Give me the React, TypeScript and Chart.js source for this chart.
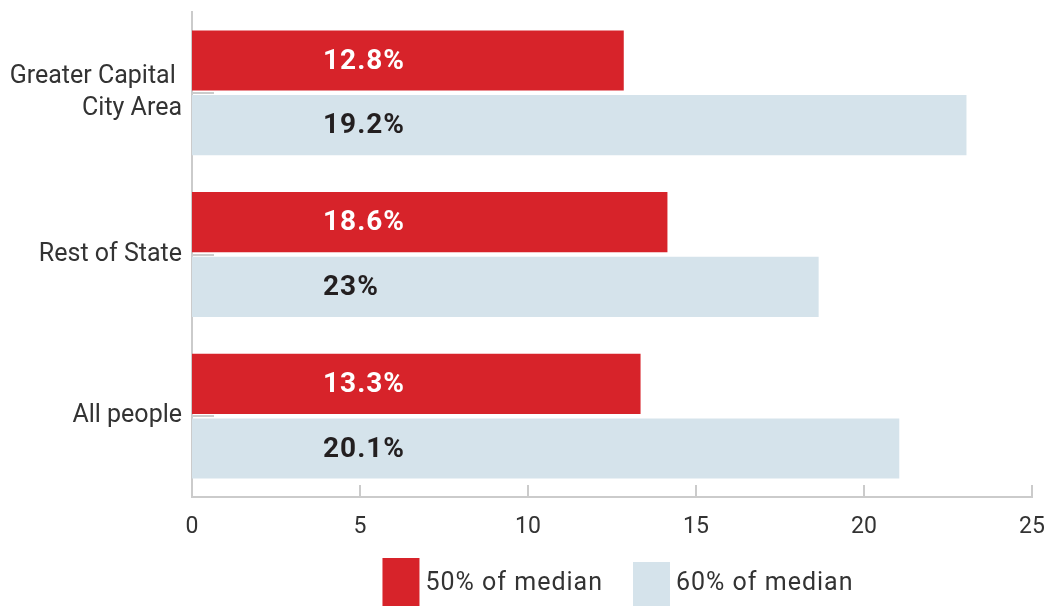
import React, { useEffect, useRef } from "react";
import { Chart, registerables } from "chart.js";

Chart.register(...registerables);

const categories: (string | string[])[] = [["Greater Capital ", "City Area"], "Rest of State", "All people"];
const seriesNames = ["50% of median", "60% of median"];
const series50 = [12.85, 14.15, 13.35];
const series60 = [23.05, 18.65, 21.05];
const labels50 = ["12.8%", "18.6%", "13.3%"];
const labels60 = ["19.2%", "23%", "20.1%"];
const xTicks = [0, 5, 10, 15, 20, 25];
const labelAnchorValue = 3.9;

const RED = "#D7232A";
const BLUE = "#D5E3EB";
const AXIS = "#CBCBCB";
const TEXT = "#333333";
const FONT = "Roboto, 'DejaVu Sans', sans-serif";

export default function App() {
  const ref = useRef<HTMLCanvasElement | null>(null);

  useEffect(() => {
    document.body.style.margin = "0";
    const canvas = ref.current;
    if (!canvas) return;

    const barLabels = [labels50, labels60];
    const labelColors = ["#FFFFFF", "#231F20"];

    const tickMarks = {
      id: "tickMarks",
      afterDatasetsDraw(chart: any) {
        const { ctx, chartArea } = chart;
        const xs = chart.scales.x;
        const ys = chart.scales.y;
        ctx.save();
        ctx.strokeStyle = AXIS;
        ctx.lineWidth = 2;
        xs.ticks.forEach((_t: any, i: number) => {
          const px = Math.round(xs.getPixelForTick(i));
          ctx.beginPath();
          ctx.moveTo(px, chartArea.bottom);
          ctx.lineTo(px, chartArea.bottom - 12);
          ctx.stroke();
        });
        ys.ticks.forEach((_t: any, i: number) => {
          const py = Math.round(ys.getPixelForTick(i));
          ctx.beginPath();
          ctx.moveTo(chartArea.left, py);
          ctx.lineTo(chartArea.left + 22, py);
          ctx.stroke();
        });
        ctx.restore();
      },
    };

    const valueLabels = {
      id: "valueLabels",
      afterDatasetsDraw(chart: any) {
        const { ctx } = chart;
        const xs = chart.scales.x;
        ctx.save();
        ctx.font = `bold 28px ${FONT}`;
        (ctx as any).letterSpacing = "1px";
        ctx.textAlign = "left";
        ctx.textBaseline = "middle";
        chart.data.datasets.forEach((_ds: any, di: number) => {
          const meta = chart.getDatasetMeta(di);
          ctx.fillStyle = labelColors[di];
          meta.data.forEach((el: any, i: number) => {
            ctx.fillText(barLabels[di][i], xs.getPixelForValue(labelAnchorValue), el.y + 1);
          });
        });
        ctx.restore();
      },
    };

    const customLegend = {
      id: "customLegend",
      afterDraw(chart: any) {
        const { ctx, chartArea } = chart;
        const boxW = 37;
        const gapText = 6;
        const gapItem = 30;
        const boxTops = [558, 562];
        const boxBottom = 606;
        ctx.save();
        ctx.font = `25px ${FONT}`;
        (ctx as any).letterSpacing = "1px";
        ctx.textBaseline = "middle";
        ctx.textAlign = "left";
        const ds = chart.data.datasets;
        const widths = ds.map((d: any) => ctx.measureText(d.label).width);
        const total = ds.reduce((s: number, _d: any, i: number) => s + boxW + gapText + widths[i], 0) + gapItem * (ds.length - 1);
        let x = (chartArea.left + chartArea.right) / 2 + 6 - total / 2;
        ds.forEach((d: any, i: number) => {
          ctx.fillStyle = d.backgroundColor;
          ctx.fillRect(x, boxTops[i], boxW, boxBottom - boxTops[i]);
          x += boxW + gapText;
          ctx.fillStyle = TEXT;
          ctx.fillText(d.label, x, 584);
          x += widths[i] + gapItem;
        });
        ctx.restore();
      },
    };

    const chart = new Chart(canvas, {
      type: "bar",
      data: {
        labels: categories,
        datasets: [
          { label: seriesNames[0], data: series50, backgroundColor: RED, categoryPercentage: 0.8, barPercentage: 0.93 },
          { label: seriesNames[1], data: series60, backgroundColor: BLUE, categoryPercentage: 0.8, barPercentage: 0.93 },
        ],
      },
      options: {
        indexAxis: "y",
        responsive: false,
        animation: false,
        layout: { padding: { top: 12, right: 19, left: 0, bottom: 0 } },
        plugins: {
          legend: { display: false },
          tooltip: { enabled: false },
        },
        scales: {
          x: {
            min: 0,
            max: 25,
            afterBuildTicks(scale: any) {
              scale.ticks = xTicks.map((v) => ({ value: v }));
            },
            afterFit(scale: any) {
              scale.height = 109;
              scale.paddingLeft = 0;
              scale.paddingRight = 0;
              scale.paddingTop = 0;
              scale.paddingBottom = 0;
            },
            grid: { display: false, drawTicks: false },
            border: { display: true, color: AXIS, width: 2 },
            ticks: { font: { family: FONT, size: 23 }, color: TEXT, padding: 16, maxRotation: 0 },
          },
          y: {
            afterFit(scale: any) {
              scale.width = 192;
              scale.paddingLeft = 0;
              scale.paddingRight = 0;
              scale.paddingTop = 0;
              scale.paddingBottom = 0;
            },
            grid: { display: false, drawTicks: false },
            border: { display: true, color: AXIS, width: 2 },
            ticks: { font: { family: FONT, size: 25, lineHeight: 1.28 }, color: TEXT, padding: 10 },
          },
        },
      } as any,
      plugins: [tickMarks, valueLabels, customLegend],
    });

    return () => chart.destroy();
  }, []);

  return (
    <div style={{ width: 1051, height: 606 }}>
      <canvas ref={ref} width={1051} height={606} />
    </div>
  );
}
